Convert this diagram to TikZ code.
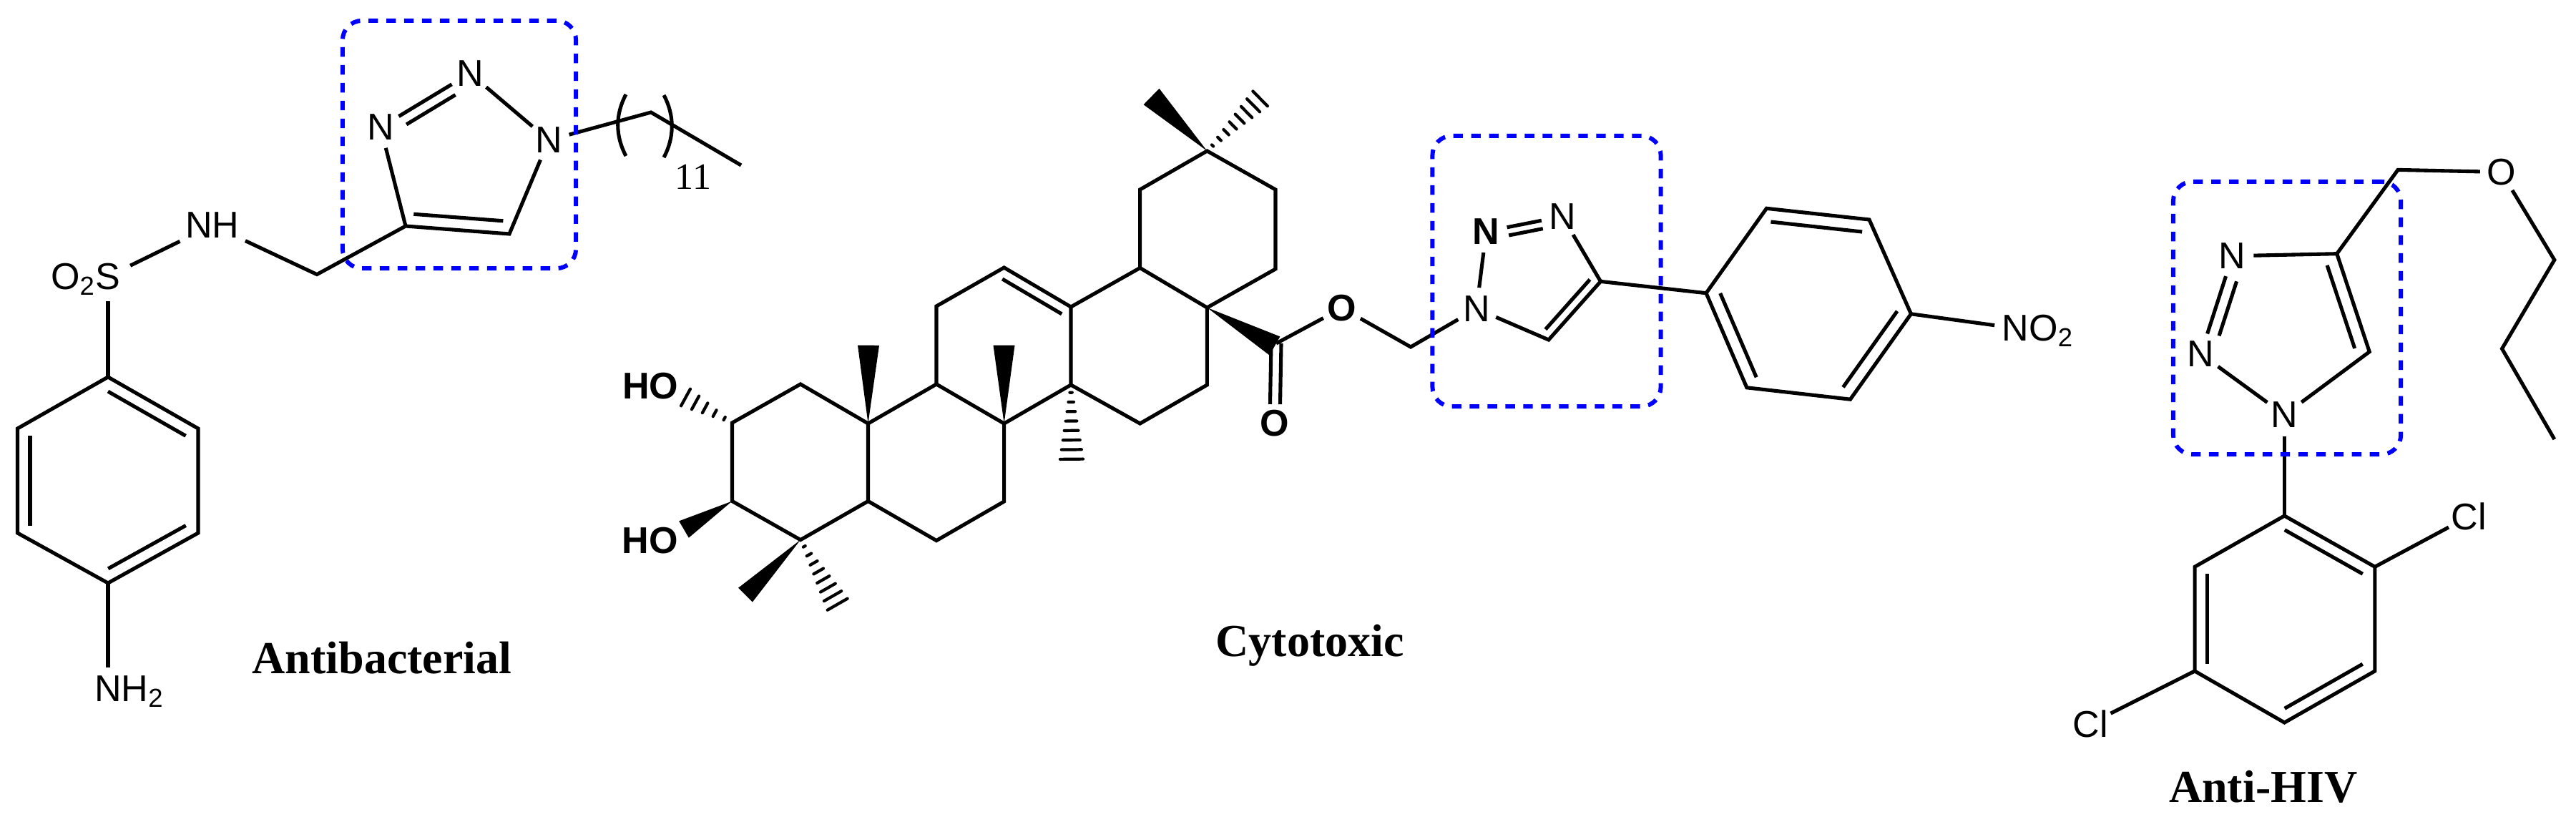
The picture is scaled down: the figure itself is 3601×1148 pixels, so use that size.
\documentclass[tikz,border=0pt]{standalone}
\usepackage{fontspec}
\setmainfont{Liberation Sans}
\newfontfamily\capfont{Liberation Serif}
\usetikzlibrary{calc}
\tikzset{
  bond/.style={line width=1.45pt,line join=miter},
  hashline/.style={line width=1.2pt,line cap=round},
  atom/.style={circle,inner sep=0pt,minimum size=.58cm,font=\fontsize{14.8pt}{17pt}\selectfont},
  atomb/.style={atom,font=\fontsize{14.8pt}{17pt}\selectfont\bfseries},
  hilite/.style={draw=blue,line width=1.7pt,rounded corners=.27cm,dash pattern=on 3.8pt off 3.3pt,inner sep=0pt},
  capt/.style={anchor=base,font=\fontsize{18.2pt}{20pt}\selectfont\capfont\bfseries},
  repeat/.style={inner sep=0pt,font=\fontsize{14.8pt}{17pt}\selectfont\capfont}
}
\begin{document}
\begin{tikzpicture}[x=.01cm,y=-.01cm]
\newcommand{\InnerBond}[4]{\draw[bond,shorten <=#4,shorten >=#4]($(#1)!#3!90:(#2)$)--($(#2)!#3!-90:(#1)$);}
\newcommand{\WedgeBond}[3]{\fill(#1)--($(#2)!#3!90:(#1)$)--($(#2)!#3!-90:(#1)$)--cycle;}
\newcommand{\HashBond}[4]{\foreach \i in {1,...,#4}{
\pgfmathsetmacro{\f}{(\i-.2)/#4}
\coordinate (hp) at ($(#1)!\f!(#2)$);
\draw[hashline]($(hp)!\f*#3!90:(#2)$)--($(hp)!\f*#3!-90:(#2)$);}}
\useasboundingbox (0,0) rectangle (3601,1148);
% antibacterial
\foreach \nm/\px/\py in {st/151/527,sur/277/599,slr/277/745,sb/151/815,sll/24.5/745,sul/24.5/599,chn/443/383.6,tc/567/316,td/712/327,ca/910/157,cb/1036/231}
\coordinate (\nm) at (\px,\py);
\node[atom,minimum size=.68cm] (so) at (151,386.5) {\smash{\llap{O\textsubscript{2}}}S};
\node[atom,minimum size=1cm] (nh) at (297,315) {NH};
\node[atom] (nhh) at (151,963) {N\smash{\rlap{H\textsubscript{2}}}};
\node[atom] (ta) at (767,196) {N};
\node[atom] (tb) at (657,102.5) {N};
\node[atom] (tn) at (532,178) {N};
\draw[bond](st)--(sur)--(slr)--(sb)--(sll)--(sul)--cycle;
\InnerBond{sur}{st}{.175cm}{.1cm}
\InnerBond{sul}{sll}{.175cm}{.1cm}
\InnerBond{sb}{slr}{.175cm}{.1cm}
\draw[bond](so)--(st);
\draw[bond](sb)--(nhh);
\draw[bond](so)--(nh);
\draw[bond](nh)--(chn)--(tc)--(td)--(ta);
\draw[bond](tc)--(tn);
\draw[bond](tn)--(tb);
\InnerBond{tb}{tn}{.152cm}{.33cm}
\draw[bond](tb)--(ta);
\InnerBond{tc}{td}{.175cm}{.1cm}
\draw[bond](ta)--(ca)--(cb);
\draw[bond](875,132) .. controls (860,160) and (860,190) .. (875,218);
\draw[bond](928,133) .. controls (943,161) and (943,192) .. (928,220);
\node[repeat] (rp) at (969,247) {11};
\node[capt] (antib) at (534,941) {Antibacterial};
% cytotoxic
\foreach \nm/\px/\py in {aa/1023.5/591,ab/1119/537,ac/1213.5/592,ad/1213.5/700.5,ae/1119/754.6,af/1023.5/700.5,
ba/1309/537,bb/1403.6/592,bc/1403.6/701,bd/1309/755.6,
ca/1309/428,cb/1403.6/374,cc/1497/429,cd/1497/538,
da/1593.6/374.5,db/1687.4/430,dc/1687.4/538,dd/1593.6/592,
ea/1593.6/265,eb/1687.4/211,ec/1783/265,ed/1783/376,
co/1784/480,chc/1972/485,tf/2237.5/393.4,tg/2164.8/475,
pa/2385/409.7,pb/2469.4/291.3,pc/2613/307,pd/2671.4/438.8,pe/2586.5/558.2,pf/2441.8/541.8}
\coordinate (\nm) at (\px,\py);
\foreach \nm/\px/\py in {wa/1214/482.7,wb/1403.5/482.7,wc/1782/483.5,wd/1609.5/135,we/956/740,wf/1042/831.6,
ha/1763.5/136,hb/955.8/554,hc/1498/644.4,hd/1172/847}
\coordinate (\nm) at (\px,\py);
\node[atomb] (hoa) at (909.3,539.8) {HO};
\node[atomb] (hob) at (909,755.6) {HO};
\node[atomb] (ocb) at (1782,592) {O};
\node[atomb] (oe) at (1876,430.6) {O};
\node[atom] (tj) at (2064,431.6) {N};
\node[atomb] (tk) at (2077.5,323.5) {N};
\node[atom] (tl) at (2184,302.5) {N};
\node[atom] (nit) at (2817.6,458.7) {N\smash{\rlap{O\textsubscript{2}}}};
\draw[bond](aa)--(ab)--(ac)--(ad)--(ae)--(af)--cycle;
\draw[bond](ac)--(ba)--(bb)--(bc)--(bd)--(ad);
\draw[bond](ba)--(ca)--(cb)--(cc)--(cd)--(bb);
\draw[bond](cc)--(da)--(db)--(dc)--(dd)--(cd);
\draw[bond](da)--(ea)--(eb)--(ec)--(ed)--(db);
\InnerBond{cc}{cb}{.15cm}{.06cm}
\WedgeBond{ac}{wa}{.15cm}
\WedgeBond{bb}{wb}{.15cm}
\WedgeBond{db}{wc}{.15cm}
\WedgeBond{eb}{wd}{.157cm}
\WedgeBond{af}{we}{.135cm}
\WedgeBond{ae}{wf}{.14cm}
\HashBond{eb}{ha}{.15cm}{8}
\HashBond{aa}{hb}{.14cm}{5}
\HashBond{cd}{hc}{.165cm}{8}
\HashBond{ae}{hd}{.165cm}{8}
\draw[bond,shorten >=.27cm]($(co)!.07cm!90:(ocb)$)--($(ocb)!.07cm!-90:(co)$);
\draw[bond,shorten >=.27cm]($(co)!.07cm!-90:(ocb)$)--($(ocb)!.07cm!90:(co)$);
\draw[bond](co)--(oe);
\draw[bond](oe)--(chc)--(tj);
\draw[bond](tj)--(tk);
\draw[bond](tk)--(tl);
\InnerBond{tl}{tk}{.115cm}{.3cm}
\draw[bond](tl)--(tf)--(tg)--(tj);
\InnerBond{tg}{tf}{.13cm}{.08cm}
\draw[bond](tf)--(pa);
\draw[bond](pa)--(pb)--(pc)--(pd)--(pe)--(pf)--cycle;
\InnerBond{pc}{pb}{.18cm}{.08cm}
\InnerBond{pa}{pf}{.18cm}{.08cm}
\InnerBond{pe}{pd}{.18cm}{.08cm}
\draw[bond](pd)--(nit);
\node[capt] (cyto) at (1831,917) {Cytotoxic};
% anti-hiv
\foreach \nm/\px/\py in {uc/3266.7/354.7,ud/3312.2/491.7,che/3352/237.4,la/3570.8/363.3,lb/3497.5/487.4,lc/3570.8/614,
qa/3193.4/721,qb/3319.8/792.3,qc/3319.8/938,qd/3193.4/1010,qe/3068/938,qf/3068/792.3}
\coordinate (\nm) at (\px,\py);
\node[atom] (ua) at (3193.4,580) {N};
\node[atom] (ub) at (3076.5,494.8) {N};
\node[atom] (un) at (3120.6,357.8) {N};
\node[atom] (ox) at (3496.5,240.5) {O};
\node[atom] (cla) at (3451,722) {Cl};
\node[atom] (clb) at (2922,1011.5) {Cl};
\draw[bond](un)--(uc)--(ud)--(ua);
\InnerBond{ud}{uc}{.18cm}{.11cm}
\draw[bond](un)--(ub);
\InnerBond{un}{ub}{.165cm}{.32cm}
\draw[bond](ub)--(ua);
\draw[bond](uc)--(che)--(ox);
\draw[bond](ox)--(la)--(lb)--(lc);
\draw[bond](ua)--(qa);
\draw[bond](qa)--(qb)--(qc)--(qd)--(qe)--(qf)--cycle;
\InnerBond{qb}{qa}{.17cm}{.1cm}
\InnerBond{qf}{qe}{.17cm}{.1cm}
\InnerBond{qd}{qc}{.17cm}{.1cm}
\draw[bond](qb)--(cla);
\draw[bond](qe)--(clb);
\node[capt] (hiv) at (3163.7,1121) {Anti-HIV};
% boxes around the triazoles
\node[hilite,minimum width=3.26cm,minimum height=3.46cm] (boxa) at (642,202) {};
\node[hilite,minimum width=3.19cm,minimum height=3.78cm] (boxb) at (2162,379) {};
\node[hilite,minimum width=3.18cm,minimum height=3.81cm] (boxc) at (3197,444.5) {};
\end{tikzpicture}
\end{document}
